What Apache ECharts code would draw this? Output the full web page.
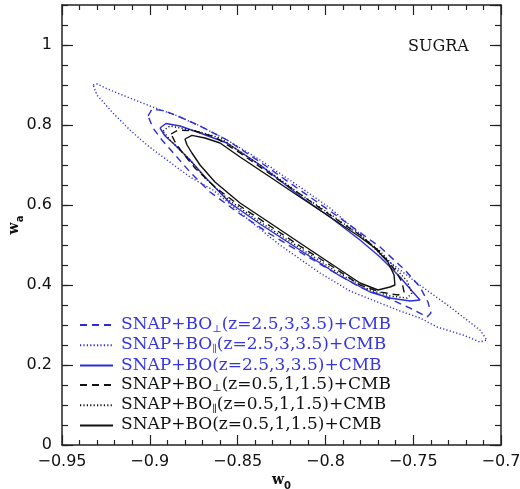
<!DOCTYPE html>
<html>
<head>
<meta charset="utf-8">
<script src="https://cdn.jsdelivr.net/npm/echarts@6/dist/echarts.min.js"></script>
<style>
html,body{margin:0;padding:0;background:#fff;}
#c{width:520px;height:489px;}
</style>
</head>
<body>
<div id="c"></div>
<script>
// Series names (legend order)
const names = [
  'SNAP+BO⊥(z=2.5,3,3.5)+CMB',
  'SNAP+BO∥(z=2.5,3,3.5)+CMB',
  'SNAP+BO(z=2.5,3,3.5)+CMB',
  'SNAP+BO⊥(z=0.5,1,1.5)+CMB',
  'SNAP+BO∥(z=0.5,1,1.5)+CMB',
  'SNAP+BO(z=0.5,1,1.5)+CMB'
];

// Contour traces (w0, wa)
const w0_blueDashed = [-0.9010,-0.8987,-0.8913,-0.8828,-0.8714,-0.8560,-0.8372,-0.8145,-0.7917,-0.7689,-0.7547,-0.7461,-0.7416,-0.7399,-0.7421,-0.7507,-0.7632,-0.7803,-0.7974,-0.8145,-0.8315,-0.8486,-0.8657,-0.8771,-0.8856,-0.8931,-0.8982,-0.9010];
const wa_blueDashed = [0.8225,0.84,0.835,0.82,0.7975,0.7625,0.7075,0.6375,0.5675,0.495,0.4375,0.395,0.3575,0.33,0.32,0.34,0.365,0.395,0.4375,0.4825,0.5275,0.5775,0.6325,0.6825,0.725,0.7625,0.7925,0.8225];

const w0_blueDotted = [-0.9323,-0.9301,-0.9227,-0.9113,-0.8999,-0.8856,-0.8714,-0.8560,-0.8372,-0.8145,-0.7974,-0.7803,-0.7672,-0.7478,-0.7290,-0.7120,-0.7080,-0.7120,-0.7216,-0.7364,-0.7461,-0.7575,-0.7689,-0.7860,-0.8031,-0.8259,-0.8429,-0.8543,-0.8640,-0.8771,-0.8902,-0.9016,-0.9113,-0.9210,-0.9301,-0.9323];
const wa_blueDotted = [0.90,0.9025,0.8875,0.8675,0.8475,0.825,0.7975,0.7625,0.7125,0.645,0.5925,0.5275,0.47,0.405,0.345,0.2875,0.2625,0.2575,0.275,0.295,0.3175,0.335,0.355,0.385,0.43,0.50,0.56,0.6025,0.6375,0.67,0.7125,0.75,0.7875,0.83,0.875,0.90];

const w0_blueSolid = [-0.8942,-0.8908,-0.8828,-0.8714,-0.8560,-0.8372,-0.8145,-0.7974,-0.7803,-0.7689,-0.7575,-0.7507,-0.7461,-0.7518,-0.7632,-0.7746,-0.7917,-0.8145,-0.8372,-0.8543,-0.8680,-0.8771,-0.8856,-0.8913,-0.8942];
const wa_blueSolid = [0.7925,0.80375,0.7975,0.78,0.755,0.70,0.6225,0.57,0.5125,0.47,0.42,0.385,0.3625,0.36,0.3675,0.3825,0.4225,0.4875,0.5525,0.605,0.6675,0.7125,0.75,0.7725,0.7925];

const w0_blackDashed = [-0.8879,-0.8839,-0.8743,-0.8629,-0.8486,-0.8315,-0.8145,-0.7974,-0.7803,-0.7689,-0.7604,-0.7564,-0.7552,-0.7586,-0.7689,-0.7803,-0.7974,-0.8145,-0.8315,-0.8486,-0.8629,-0.8743,-0.8817,-0.8856,-0.8879];
const wa_blackDashed = [0.7775,0.7875,0.785,0.77,0.73,0.6775,0.6275,0.575,0.525,0.4825,0.4375,0.4075,0.3825,0.375,0.3825,0.40,0.45,0.4975,0.5475,0.5975,0.645,0.6925,0.7325,0.7575,0.7775];

const w0_blackDotted = [-0.8925,-0.8885,-0.8800,-0.8714,-0.8600,-0.8458,-0.8315,-0.8145,-0.7974,-0.7803,-0.7689,-0.7592,-0.7535,-0.7507,-0.7535,-0.7632,-0.7746,-0.7917,-0.8145,-0.8372,-0.8543,-0.8686,-0.8771,-0.8828,-0.8885,-0.8925];
const wa_blackDotted = [0.785,0.7975,0.79,0.7825,0.7675,0.725,0.6825,0.6275,0.5775,0.525,0.485,0.4375,0.41,0.38,0.3675,0.3725,0.3875,0.4275,0.4925,0.5575,0.61,0.6675,0.7125,0.7375,0.7625,0.785];

const w0_blackSolid = [-0.8800,-0.8760,-0.8686,-0.8600,-0.8486,-0.8315,-0.8145,-0.7974,-0.7803,-0.7718,-0.7644,-0.7609,-0.7604,-0.7632,-0.7700,-0.7803,-0.7974,-0.8145,-0.8315,-0.8486,-0.8629,-0.8714,-0.8760,-0.8788,-0.8800];
const wa_blackSolid = [0.765,0.774,0.7675,0.755,0.72,0.67,0.62,0.57,0.52,0.4925,0.4575,0.425,0.40,0.395,0.3875,0.405,0.455,0.505,0.555,0.605,0.6575,0.70,0.73,0.75,0.765];

// Axis ticks
const xTicks = [-0.95, -0.9, -0.85, -0.8, -0.75, -0.7];
const yTicks = [0, 0.2, 0.4, 0.6, 0.8, 1];

const BLUE = '#2c2cd8';
const BLUE_TEXT = '#3535e4';
const BLACK = '#111111';
const AX = '#222222';

function pairs(xs, ys){ return xs.map((x,i)=>[x, ys[i]]); }

const traces = [
  {x: w0_blueDashed, y: wa_blueDashed, color: BLUE, type: [7,5]},
  {x: w0_blueDotted, y: wa_blueDotted, color: BLUE, type: [1.2,2.2]},
  {x: w0_blueSolid, y: wa_blueSolid, color: BLUE, type: 'solid'},
  {x: w0_blackDashed, y: wa_blackDashed, color: BLACK, type: [7,5]},
  {x: w0_blackDotted, y: wa_blackDotted, color: BLACK, type: [1.2,2.2]},
  {x: w0_blackSolid, y: wa_blackSolid, color: BLACK, type: 'solid'}
];

const chart = echarts.init(document.getElementById('c'), null, {renderer: 'canvas'});

const fmt = v => (Math.round(v*100)/100).toString().replace('-', '\u2212');

const xBase = {
  type: 'value', min: xTicks[0], max: xTicks[xTicks.length-1], interval: 0.05,
  axisLine: {show: true, onZero: false, lineStyle: {color: AX, width: 1.5}},
  axisTick: {show: true, inside: true, length: 10, lineStyle: {color: AX, width: 1.2}},
  minorTick: {show: true, splitNumber: 5, length: 5, lineStyle: {color: AX, width: 1.2}},
  splitLine: {show: false}, minorSplitLine: {show: false}
};
const yMajor = {
  type: 'value', min: yTicks[0], max: 1.1, interval: 0.2,
  axisLine: {show: true, onZero: false, lineStyle: {color: AX, width: 1.5}},
  axisTick: {show: true, inside: true, length: 11, lineStyle: {color: AX, width: 1.2}},
  splitLine: {show: false}
};
const yMinor = {
  type: 'value', min: 0, max: 1.1, interval: 0.05,
  axisLine: {show: false},
  axisTick: {show: true, inside: true, length: 6, lineStyle: {color: AX, width: 1.2}},
  axisLabel: {show: false},
  splitLine: {show: false}
};

const nameRich = {
  w: {fontFamily: 'DejaVu Serif', fontWeight: 'bold', fontSize: 14, color: '#111', verticalAlign: 'top', lineHeight: 18},
  s: {fontFamily: 'DejaVu Sans', fontWeight: 'bold', fontSize: 10, color: '#111', verticalAlign: 'bottom', lineHeight: 18}
};

const option = {
  animation: false,
  backgroundColor: '#fff',
  grid: {left: 62, right: 19, top: 5, bottom: 44, containLabel: false, outerBoundsMode: 'none'},
  xAxis: [
    Object.assign({}, xBase, {
      position: 'bottom',
      name: '{w|w}{s|0}', nameLocation: 'middle', nameGap: 28, nameMoveOverlap: false,
      nameTextStyle: {rich: nameRich},
      axisLabel: {show: true, margin: 9, fontFamily: 'DejaVu Sans', fontSize: 16, color: '#111',
        formatter: fmt, showMinLabel: true, showMaxLabel: true}
    }),
    Object.assign({}, xBase, {position: 'top', axisLabel: {show: false}})
  ],
  yAxis: [
    Object.assign({}, yMajor, {
      position: 'left',
      name: '{w|w}{s|a}', nameLocation: 'middle', nameGap: 37, nameRotate: 90, nameMoveOverlap: false,
      nameTextStyle: {rich: nameRich},
      axisLabel: {show: true, margin: 10, fontFamily: 'DejaVu Sans', fontSize: 16, color: '#111',
        formatter: fmt, showMaxLabel: false}
    }),
    Object.assign({}, yMinor, {position: 'left'}),
    Object.assign({}, yMajor, {position: 'right', axisLabel: {show: false}}),
    Object.assign({}, yMinor, {position: 'right'})
  ],
  legend: {
    orient: 'vertical', left: 79, top: 316, padding: 0,
    itemWidth: 33, itemHeight: 14, itemGap: 2.3,
    selectedMode: false,
    itemStyle: {opacity: 0},
    data: names.map((n, i) => ({name: n})),
    formatter: function (name) {
      const m = name.match(/^(SNAP\+BO)([⊥∥]?)(.*)$/);
      const col = name.indexOf('2.5') >= 0 ? 'b' : 'k';
      return '{' + col + 'p|' + m[1] + '}' + (m[2] ? '{' + col + 's|' + m[2] + '}' : '') + '{' + col + '|' + m[3] + '}';
    },
    textStyle: {
      fontFamily: 'DejaVu Serif', fontSize: 17,
      rich: {
        bp: {fontFamily: 'DejaVu Serif', fontSize: 17, color: BLUE_TEXT, lineHeight: 18, verticalAlign: 'top', padding: [0,0,0,3]},
        b: {fontFamily: 'DejaVu Serif', fontSize: 17, color: BLUE_TEXT, lineHeight: 18, verticalAlign: 'top'},
        bs: {fontFamily: 'DejaVu Serif', fontSize: 10, color: BLUE_TEXT, lineHeight: 18, verticalAlign: 'bottom'},
        kp: {fontFamily: 'DejaVu Serif', fontSize: 17, color: '#111', lineHeight: 18, verticalAlign: 'top', padding: [0,0,0,3]},
        k: {fontFamily: 'DejaVu Serif', fontSize: 17, color: '#111', lineHeight: 18, verticalAlign: 'top'},
        ks: {fontFamily: 'DejaVu Serif', fontSize: 10, color: '#111', lineHeight: 18, verticalAlign: 'bottom'}
      }
    }
  },
  graphic: [{
    type: 'text', left: 408, top: 39,
    style: {text: 'SUGRA', fontFamily: 'DejaVu Serif', fontSize: 16, fill: '#111'}
  }],
  series: traces.map((t, i) => ({
    name: names[i],
    type: 'line',
    xAxisIndex: 0, yAxisIndex: 0,
    data: pairs(t.x, t.y),
    showSymbol: false, symbol: 'none',
    smooth: false,
    lineStyle: {color: t.color, width: 1.4, type: t.type},
    itemStyle: {color: t.color},
    z: 2 + i
  }))
};
chart.setOption(option);
</script>
</body>
</html>
